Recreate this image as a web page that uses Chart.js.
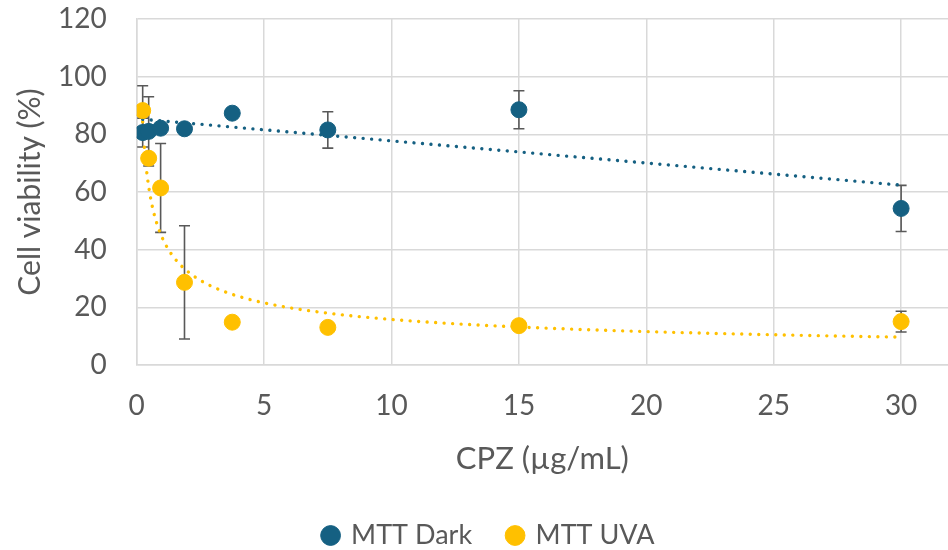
<!DOCTYPE html>
<html>
<head>
<meta charset="utf-8">
<script src="https://cdn.jsdelivr.net/npm/chart.js@4/dist/chart.umd.min.js"></script>
<style>
  html, body { margin: 0; padding: 0; background: #fff; overflow: hidden; }
  #wrap { width: 948px; height: 550px; }
</style>
</head>
<body>
<div id="wrap"><canvas id="viabilityChart"></canvas></div>
<script>
// CPZ concentrations (µg/mL)
const cpzDoses = [0.234, 0.469, 0.938, 1.875, 3.75, 7.5, 15, 30];

// cell viability (%) and SD for each condition
const darkViability = [80.6, 81.0, 82.1, 81.9, 87.3, 81.5, 88.5, 54.3];
const darkError = [5, 12, 1.5, 1.5, 1.2, 6.3, 6.6, 8];
const uvaViability = [88.2, 71.7, 61.4, 28.7, 14.9, 13.1, 13.7, 15.1];
const uvaError = [8.6, 1.5, 15.4, 19.6, 1.2, 1.2, 1.2, 3.6];

const seriesNames = ['MTT Dark', 'MTT UVA'];
const xTickValues = [0, 5, 10, 15, 20, 25, 30];
const yTickValues = [0, 20, 40, 60, 80, 100, 120];

const darkColor = '#156082';
const uvaColor = '#FFC000';
const textColor = '#595959';
const gridColor = '#D9D9D9';
const fontFamily = 'Lato, "Open Sans", sans-serif';

// least squares fits, same as the spreadsheet trendlines
function linearFit(xs, ys) {
  const n = xs.length;
  const mx = xs.reduce((a, b) => a + b, 0) / n;
  const my = ys.reduce((a, b) => a + b, 0) / n;
  let sxy = 0, sxx = 0;
  xs.forEach((x, i) => { sxy += (x - mx) * (ys[i] - my); sxx += (x - mx) * (x - mx); });
  const slope = sxy / sxx;
  return { slope, intercept: my - slope * mx };
}

function powerFit(xs, ys) {
  const f = linearFit(xs.map(Math.log), ys.map(Math.log));
  return { a: Math.exp(f.intercept), b: f.slope };
}

const lo = Math.min(...cpzDoses), hi = Math.max(...cpzDoses);

const darkLin = linearFit(cpzDoses, darkViability);
const darkTrend = [lo, hi].map(x => ({ x, y: darkLin.intercept + darkLin.slope * x }));

const uvaPow = powerFit(cpzDoses, uvaViability);
const uvaTrend = [];
for (let i = 0; i <= 80; i++) {
  const x = lo * Math.pow(hi / lo, i / 80);
  uvaTrend.push({ x, y: uvaPow.a * Math.pow(x, uvaPow.b) });
}

const toPoints = (ys) => cpzDoses.map((x, i) => ({ x, y: ys[i] }));

// draws vertical error bars with caps under the markers
const errorBarPlugin = {
  id: 'errorBars',
  beforeDatasetsDraw(chart) {
    const { ctx, scales: { x, y } } = chart;
    const sets = [[darkViability, darkError], [uvaViability, uvaError]];
    ctx.save();
    ctx.strokeStyle = textColor;
    ctx.lineWidth = 1.6;
    sets.forEach(([vals, errs]) => {
      vals.forEach((v, i) => {
        if (!errs[i]) return;
        const px = x.getPixelForValue(cpzDoses[i]);
        const top = y.getPixelForValue(v + errs[i]);
        const bot = y.getPixelForValue(v - errs[i]);
        ctx.beginPath();
        ctx.moveTo(px, top); ctx.lineTo(px, bot);
        ctx.moveTo(px - 5.5, top); ctx.lineTo(px + 5.5, top);
        ctx.moveTo(px - 5.5, bot); ctx.lineTo(px + 5.5, bot);
        ctx.stroke();
      });
    });
    ctx.restore();
  }
};

// legend in the original sits a little right of the page centre
const legendNudge = {
  id: 'legendNudge',
  afterLayout(chart) {
    chart.legend.left += 15;
    chart.legend.right += 15;
  }
};

const trendStyle = {
  type: 'line',
  showLine: true,
  pointRadius: 0,
  borderWidth: 3.4,
  borderDash: [0.01, 8.5],
  borderCapStyle: 'round',
  fill: false,
  order: 2
};

new Chart(document.getElementById('viabilityChart'), {
  type: 'scatter',
  data: {
    datasets: [
      {
        label: seriesNames[0],
        data: toPoints(darkViability),
        backgroundColor: darkColor,
        borderColor: darkColor,
        pointRadius: 8,
        pointHoverRadius: 8,
        order: 1
      },
      {
        label: seriesNames[1],
        data: toPoints(uvaViability),
        backgroundColor: uvaColor,
        borderColor: uvaColor,
        pointRadius: 8,
        pointHoverRadius: 8,
        order: 0
      },
      Object.assign({ label: 'dark trend', data: darkTrend, borderColor: darkColor }, trendStyle),
      Object.assign({ label: 'uva trend', data: uvaTrend, borderColor: uvaColor }, trendStyle)
    ]
  },
  plugins: [errorBarPlugin, legendNudge],
  options: {
    responsive: true,
    maintainAspectRatio: false,
    animation: false,
    // plot runs to the right edge, legend sits low like the original
    layout: { autoPadding: false, padding: { top: 3, right: 0, bottom: -9, left: 0 } },
    scales: {
      x: {
        type: 'linear',
        min: 0,
        max: 31.84,
        afterBuildTicks: (axis) => { axis.ticks = xTickValues.map(v => ({ value: v })); },
        // invisible tick marks keep the labels away from the axis
        grid: { color: gridColor, lineWidth: 1.5, drawTicks: true, tickLength: 22, tickColor: 'rgba(0,0,0,0)' },
        border: { color: gridColor, width: 1.5 },
        ticks: { color: textColor, padding: 2, font: { family: fontFamily, size: 28 } },
        title: {
          display: true,
          text: 'CPZ (µg/mL)',
          color: textColor,
          font: { family: fontFamily, size: 31 },
          padding: { top: 16, bottom: 8 }
        }
      },
      y: {
        min: 0,
        max: 120,
        afterBuildTicks: (axis) => { axis.ticks = yTickValues.map(v => ({ value: v })); },
        grid: { color: gridColor, lineWidth: 1.5, drawTicks: true, tickLength: 28, tickColor: 'rgba(0,0,0,0)' },
        border: { color: gridColor, width: 1.5 },
        ticks: { color: textColor, padding: 2, font: { family: fontFamily, size: 28 } },
        title: {
          display: true,
          text: 'Cell viability (%)',
          color: textColor,
          font: { family: fontFamily, size: 30 },
          padding: { top: 12, bottom: 8 }
        }
      }
    },
    plugins: {
      legend: {
        position: 'bottom',
        labels: {
          filter: (item) => seriesNames.includes(item.text),
          sort: (a, b) => a.datasetIndex - b.datasetIndex,
          usePointStyle: true,
          pointStyle: 'circle',
          boxWidth: 14,
          boxHeight: 14,
          padding: 36,
          color: textColor,
          font: { family: fontFamily, size: 27 }
        }
      },
      tooltip: { enabled: false }
    }
  }
});
</script>
</body>
</html>
